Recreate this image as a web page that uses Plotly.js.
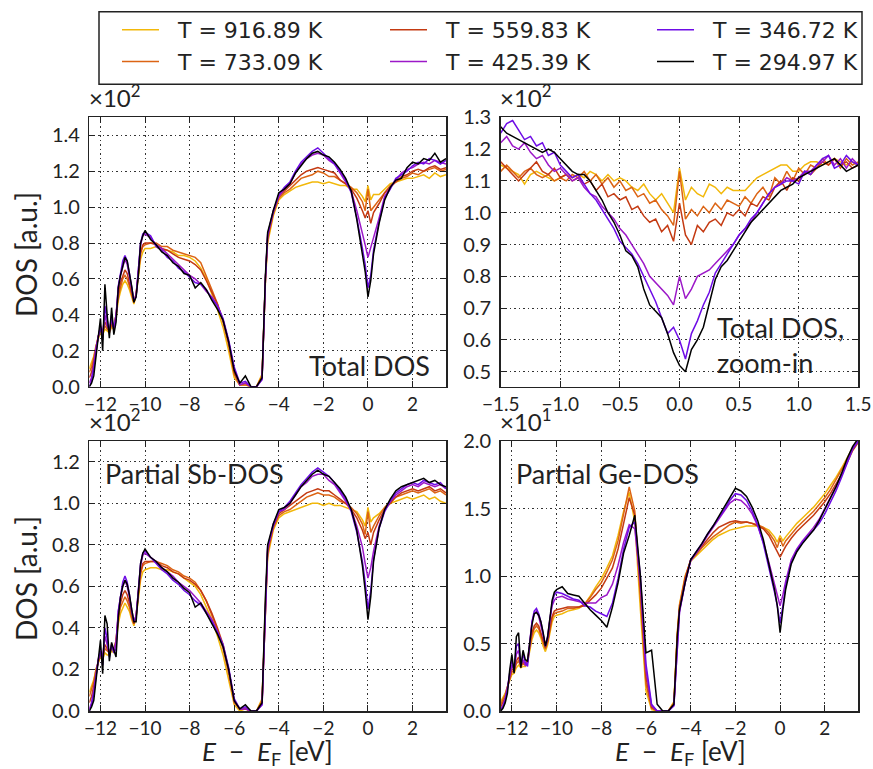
<!DOCTYPE html>
<html><head><meta charset="utf-8">
<script src="https://cdn.plot.ly/plotly-3.0.1.min.js"></script>
<style>html,body{margin:0;padding:0;background:#fff;}#chart{width:873px;height:769px;}</style>
</head><body><div id="chart"></div>
<script>
// ---------------- data ----------------
const seriesLabels = ["T = 916.89 K","T = 733.09 K","T = 559.83 K","T = 425.39 K","T = 346.72 K","T = 294.97 K"];
const seriesColors = ["#f2b80a","#dc6414","#c43a12","#9c18c8","#6e0ce6","#000000"];

const energyWide = [-12.5,-12.4,-12.3,-12.2,-12.1,-12.0,-11.9,-11.8,-11.7,-11.6,-11.5,-11.4,-11.3,-11.2,-11.1,-11.0,-10.9,-10.8,-10.7,-10.6,-10.5,-10.4,-10.3,-10.2,-10.1,-10.0,-9.75,-9.5,-9.25,-9.0,-8.75,-8.5,-8.25,-8.0,-7.75,-7.5,-7.25,-7.0,-6.75,-6.5,-6.25,-6.0,-5.75,-5.5,-5.25,-5.0,-4.75,-4.6,-4.5,-4.25,-4.0,-3.75,-3.5,-3.25,-3.0,-2.75,-2.5,-2.25,-2.0,-1.75,-1.5,-1.25,-1.0,-0.75,-0.5,-0.25,-0.125,0,0.125,0.25,0.5,0.75,1.0,1.25,1.5,1.75,2.0,2.25,2.5,2.75,3.0,3.25,3.5];
const energyZoom = [-1.5,-1.45,-1.4,-1.35,-1.3,-1.25,-1.2,-1.15,-1.1,-1.05,-1.0,-0.95,-0.9,-0.85,-0.8,-0.75,-0.7,-0.65,-0.6,-0.55,-0.5,-0.45,-0.4,-0.35,-0.3,-0.25,-0.2,-0.15,-0.1,-0.05,0,0.05,0.1,0.15,0.2,0.25,0.3,0.35,0.4,0.45,0.5,0.55,0.6,0.65,0.7,0.75,0.8,0.85,0.9,0.95,1.0,1.05,1.1,1.15,1.2,1.25,1.3,1.35,1.4,1.45,1.5];

// Total DOS (x10^2)
const total916 = [0.10,0.13,0.17,0.23,0.27,0.30,0.29,0.32,0.31,0.30, 0.33,0.32,0.38,0.48,0.53,0.57,0.59,0.57,0.54,0.50, 0.46,0.51,0.61,0.71,0.75,0.77,0.77,0.78,0.76,0.76, 0.75,0.73,0.73,0.72,0.70,0.66,0.60,0.52,0.43,0.33, 0.20,0.05,0.01,0.01,0.00,0.00,0.07,0.58,0.80,0.95, 1.04,1.07,1.09,1.11,1.12,1.13,1.14,1.14,1.13,1.14, 1.13,1.12,1.12,1.10,1.10,1.06,1.03,1.12,1.04,1.07, 1.07,1.10,1.13,1.14,1.15,1.16,1.16,1.17,1.18,1.16, 1.19,1.17,1.18];
const total733 = [0.08,0.11,0.16,0.23,0.28,0.31,0.30,0.34,0.32,0.31, 0.34,0.33,0.40,0.50,0.56,0.60,0.62,0.60,0.56,0.51, 0.47,0.52,0.63,0.74,0.78,0.79,0.80,0.80,0.78,0.78, 0.76,0.75,0.74,0.73,0.72,0.69,0.62,0.54,0.46,0.36, 0.23,0.07,0.01,0.01,0.00,0.00,0.06,0.60,0.82,0.96, 1.05,1.08,1.10,1.13,1.16,1.17,1.18,1.20,1.19,1.17, 1.17,1.15,1.13,1.11,1.08,1.03,0.98,1.10,0.98,1.00, 1.04,1.08,1.12,1.14,1.16,1.17,1.19,1.18,1.20,1.21, 1.22,1.20,1.21];
const total559 = [0.05,0.08,0.14,0.22,0.28,0.32,0.30,0.36,0.33,0.31, 0.35,0.33,0.40,0.52,0.58,0.62,0.65,0.63,0.58,0.52, 0.47,0.51,0.64,0.75,0.79,0.80,0.80,0.79,0.77,0.76, 0.74,0.72,0.71,0.70,0.68,0.65,0.59,0.52,0.46,0.37, 0.25,0.08,0.01,0.02,0.00,0.00,0.05,0.60,0.83,0.97, 1.06,1.09,1.12,1.15,1.18,1.20,1.21,1.22,1.21,1.20, 1.19,1.15,1.13,1.10,1.05,0.98,0.94,0.98,0.91,0.97, 1.02,1.08,1.11,1.14,1.17,1.18,1.20,1.21,1.20,1.22, 1.23,1.21,1.22];
const total425 = [0.02,0.05,0.12,0.22,0.27,0.34,0.30,0.40,0.34,0.32, 0.37,0.33,0.40,0.55,0.62,0.67,0.71,0.68,0.62,0.54, 0.48,0.51,0.66,0.79,0.84,0.85,0.83,0.79,0.77,0.74, 0.71,0.68,0.65,0.62,0.60,0.57,0.53,0.50,0.45,0.37, 0.25,0.10,0.01,0.02,0.00,0.00,0.04,0.60,0.84,0.98, 1.06,1.10,1.13,1.19,1.24,1.27,1.29,1.30,1.29,1.26, 1.24,1.19,1.14,1.09,0.98,0.86,0.79,0.72,0.77,0.83, 0.94,1.06,1.11,1.15,1.19,1.21,1.22,1.24,1.25,1.24, 1.26,1.25,1.24];
const total346 = [0.00,0.03,0.10,0.20,0.28,0.33,0.26,0.45,0.36,0.30, 0.40,0.31,0.38,0.56,0.63,0.70,0.73,0.70,0.63,0.55, 0.48,0.50,0.65,0.80,0.85,0.86,0.84,0.78,0.76,0.72, 0.70,0.66,0.64,0.61,0.58,0.57,0.54,0.49,0.45,0.38, 0.26,0.11,0.02,0.03,0.00,0.00,0.04,0.60,0.85,0.97, 1.07,1.11,1.14,1.20,1.25,1.28,1.31,1.33,1.30,1.27, 1.24,1.20,1.15,1.08,0.94,0.77,0.68,0.55,0.62,0.76, 0.92,1.05,1.10,1.16,1.18,1.20,1.23,1.25,1.24,1.27, 1.26,1.24,1.26];
const total294 = [0.00,0.02,0.06,0.18,0.30,0.38,0.20,0.57,0.40,0.27, 0.44,0.29,0.36,0.55,0.62,0.68,0.72,0.70,0.64,0.56, 0.47,0.50,0.62,0.80,0.84,0.87,0.82,0.79,0.75,0.73, 0.69,0.67,0.63,0.62,0.55,0.58,0.54,0.48,0.43,0.37, 0.25,0.09,0.02,0.06,0.00,0.00,0.05,0.62,0.86,0.98, 1.08,1.10,1.13,1.19,1.23,1.27,1.30,1.31,1.29,1.28, 1.25,1.21,1.16,1.09,0.93,0.72,0.64,0.50,0.59,0.74, 0.91,1.04,1.11,1.15,1.16,1.22,1.25,1.24,1.27,1.26, 1.30,1.25,1.27];

// Total DOS zoom-in (x10^2)
const zoom916 = [1.15,1.14,1.13,1.12,1.09,1.12,1.13,1.12,1.11,1.10, 1.11,1.12,1.11,1.12,1.11,1.13,1.12,1.10,1.12,1.10, 1.11,1.10,1.08,1.07,1.09,1.06,1.04,1.06,1.03,1.00, 1.14, 1.04,1.08,1.06,1.05,1.09,1.08,1.06,1.08,1.07,1.07, 1.07,1.09,1.11,1.12,1.13,1.14,1.15,1.15,1.13,1.13, 1.15,1.16,1.16,1.15,1.16,1.17,1.16,1.15,1.16,1.15];
const zoom733 = [1.13,1.15,1.13,1.11,1.13,1.14,1.12,1.11,1.12,1.10, 1.11,1.10,1.12,1.11,1.13,1.10,1.12,1.09,1.11,1.08, 1.10,1.07,1.08,1.05,1.06,1.03,1.04,1.01,0.99,0.96, 1.13, 0.98,1.01,0.99,1.02,1.00,1.03,1.01,1.04,1.03,1.02, 1.05,1.03,1.06,1.08,1.05,1.11,1.09,1.13,1.10,1.14, 1.12,1.15,1.14,1.17,1.15,1.17,1.14,1.17,1.15,1.16];
const zoom559 = [1.16,1.14,1.12,1.10,1.12,1.14,1.16,1.13,1.12,1.14, 1.11,1.12,1.10,1.11,1.09,1.10,1.07,1.09,1.05,1.06, 1.04,1.05,1.01,1.02,0.99,0.97,0.98,0.94,0.96,0.91, 1.03, 0.93,0.90,0.96,0.94,0.97,0.98,0.96,1.00,0.99,1.01, 0.99,1.03,1.02,1.05,1.04,1.08,1.10,1.07,1.11,1.10, 1.13,1.12,1.14,1.16,1.15,1.17,1.15,1.16,1.14,1.15];
const zoom425 = [1.22,1.24,1.21,1.20,1.22,1.19,1.17,1.18,1.15,1.13, 1.14,1.12,1.10,1.11,1.08,1.06,1.05,1.02,1.00,0.98, 0.95,0.93,0.90,0.87,0.84,0.80,0.78,0.76,0.74,0.71, 0.80, 0.73,0.76,0.80,0.81,0.82,0.84,0.86,0.88,0.90,0.93, 0.95,0.97,1.00,1.03,1.06,1.08,1.09,1.11,1.10,1.11, 1.13,1.13,1.15,1.16,1.18,1.15,1.17,1.14,1.17,1.15];
const zoom346 = [1.25,1.28,1.29,1.26,1.23,1.24,1.21,1.22,1.18,1.19, 1.15,1.13,1.11,1.12,1.09,1.06,1.04,1.01,0.98,0.95, 0.91,0.89,0.87,0.84,0.80,0.76,0.72,0.67,0.62,0.64, 0.60, 0.54,0.62,0.66,0.71,0.75,0.81,0.84,0.87,0.90,0.93, 0.95,0.98,1.00,1.03,1.06,1.08,1.09,1.10,1.10,1.09, 1.13,1.12,1.15,1.17,1.18,1.14,1.15,1.18,1.16,1.15];
const zoom294 = [1.27,1.25,1.24,1.23,1.22,1.21,1.20,1.19,1.20,1.19, 1.17,1.15,1.13,1.12,1.12,1.10,1.07,1.04,1.00,0.97, 0.93,0.88,0.865,0.83,0.76,0.71,0.69,0.67,0.62,0.56, 0.52, 0.50,0.57,0.60,0.64,0.72,0.79,0.83,0.85,0.88,0.91, 0.94,0.97,0.99,1.01,1.03,1.05,1.07,1.08,1.09,1.11, 1.12,1.13,1.14,1.15,1.16,1.17,1.15,1.13,1.14,1.15];

// Partial Sb-DOS (x10^2)
const sb916 = [0.09,0.12,0.15,0.20,0.23,0.26,0.25,0.28,0.27,0.27, 0.29,0.28,0.33,0.42,0.47,0.50,0.52,0.50,0.48,0.44, 0.41,0.45,0.54,0.63,0.67,0.68,0.69,0.69,0.68,0.68, 0.67,0.66,0.64,0.62,0.60,0.56,0.50,0.44,0.36,0.27, 0.15,0.03,0.00,0.01,0.00,0.00,0.06,0.50,0.74,0.87, 0.93,0.95,0.96,0.97,0.98,0.99,1.00,1.00,0.99,1.00, 0.99,0.99,0.98,0.97,0.96,0.92,0.89,0.98,0.91,0.93, 0.95,0.98,1.00,1.01,1.02,1.03,1.02,1.03,1.04,1.02, 1.03,1.01,1.00];
const sb733 = [0.07,0.10,0.14,0.20,0.24,0.27,0.26,0.30,0.29,0.28, 0.30,0.29,0.34,0.44,0.50,0.53,0.55,0.53,0.50,0.45, 0.42,0.46,0.56,0.66,0.70,0.71,0.72,0.72,0.71,0.70, 0.68,0.67,0.65,0.64,0.62,0.58,0.53,0.46,0.39,0.30, 0.18,0.04,0.01,0.01,0.00,0.00,0.05,0.52,0.76,0.88, 0.94,0.96,0.97,0.99,1.01,1.03,1.04,1.05,1.04,1.04, 1.03,1.01,1.00,0.98,0.95,0.90,0.85,0.96,0.86,0.89, 0.94,0.98,1.01,1.03,1.04,1.05,1.06,1.05,1.06,1.07, 1.05,1.06,1.04];
const sb559 = [0.04,0.07,0.12,0.19,0.24,0.28,0.26,0.32,0.30,0.28, 0.31,0.29,0.34,0.46,0.52,0.56,0.58,0.56,0.52,0.46, 0.42,0.46,0.57,0.67,0.71,0.72,0.72,0.72,0.70,0.69, 0.67,0.66,0.64,0.63,0.61,0.58,0.53,0.47,0.40,0.32, 0.20,0.05,0.01,0.01,0.00,0.00,0.04,0.52,0.77,0.89, 0.95,0.97,0.99,1.01,1.03,1.05,1.06,1.07,1.06,1.06, 1.04,1.02,1.00,0.97,0.93,0.87,0.83,0.86,0.80,0.86, 0.92,0.97,1.00,1.03,1.05,1.06,1.07,1.06,1.07,1.08, 1.06,1.07,1.05];
const sb425 = [0.01,0.04,0.10,0.18,0.24,0.29,0.26,0.36,0.32,0.28, 0.32,0.29,0.33,0.48,0.55,0.60,0.63,0.60,0.55,0.48, 0.43,0.46,0.59,0.70,0.75,0.76,0.74,0.72,0.69,0.67, 0.65,0.62,0.60,0.58,0.55,0.52,0.48,0.44,0.38,0.31, 0.20,0.05,0.01,0.01,0.00,0.00,0.03,0.50,0.78,0.90, 0.96,0.97,1.00,1.04,1.08,1.10,1.13,1.14,1.14,1.11, 1.09,1.05,1.01,0.97,0.89,0.79,0.71,0.64,0.69,0.77, 0.89,0.97,1.01,1.04,1.06,1.08,1.09,1.08,1.10,1.09, 1.08,1.09,1.07];
const sb346 = [0.00,0.03,0.08,0.17,0.25,0.29,0.22,0.40,0.35,0.26, 0.32,0.28,0.30,0.48,0.56,0.62,0.65,0.62,0.56,0.48, 0.43,0.45,0.58,0.71,0.76,0.77,0.74,0.71,0.68,0.66, 0.63,0.61,0.58,0.56,0.53,0.51,0.47,0.43,0.38,0.32, 0.21,0.06,0.01,0.02,0.00,0.00,0.03,0.52,0.79,0.89, 0.96,0.98,1.01,1.05,1.09,1.12,1.15,1.17,1.15,1.13, 1.10,1.06,1.02,0.96,0.86,0.72,0.62,0.49,0.58,0.73, 0.88,0.96,1.01,1.05,1.07,1.09,1.10,1.09,1.11,1.10, 1.09,1.10,1.07];
const sb294 = [0.00,0.02,0.05,0.15,0.27,0.34,0.18,0.46,0.42,0.24, 0.33,0.30,0.26,0.45,0.55,0.60,0.63,0.61,0.56,0.49, 0.43,0.43,0.55,0.71,0.76,0.78,0.74,0.72,0.69,0.67, 0.64,0.62,0.59,0.57,0.50,0.52,0.47,0.42,0.37,0.31, 0.20,0.05,0.01,0.03,0.00,0.00,0.04,0.55,0.80,0.90, 0.97,0.98,1.00,1.04,1.08,1.11,1.14,1.16,1.14,1.13, 1.10,1.07,1.03,0.97,0.87,0.70,0.58,0.44,0.55,0.72, 0.88,0.97,1.02,1.06,1.08,1.09,1.10,1.11,1.12,1.10, 1.11,1.09,1.08];

// Partial Ge-DOS (x10^1)
const ge916 = [0.07,0.10,0.13,0.18,0.23,0.27,0.28,0.32,0.34,0.32, 0.33,0.33,0.36,0.46,0.53,0.58,0.60,0.58,0.54,0.48, 0.44,0.49,0.58,0.66,0.70,0.71,0.72,0.74,0.75,0.76, 0.79,0.85,0.92,0.98,1.06,1.15,1.30,1.48,1.62,1.40, 0.75,0.15,0.01,0.00,0.00,0.00,0.07,0.58,0.79,1.00, 1.11,1.15,1.19,1.23,1.27,1.30,1.32,1.34,1.35,1.36, 1.37,1.37,1.37,1.36,1.34,1.29,1.25,1.30,1.26,1.29, 1.34,1.39,1.43,1.47,1.51,1.56,1.61,1.67,1.73,1.80, 1.87,1.95,2.00];
const ge733 = [0.05,0.08,0.12,0.18,0.24,0.29,0.29,0.35,0.37,0.33, 0.35,0.34,0.37,0.48,0.56,0.61,0.63,0.61,0.56,0.50, 0.46,0.51,0.61,0.69,0.72,0.73,0.74,0.76,0.76,0.77, 0.79,0.84,0.90,0.95,1.03,1.12,1.26,1.45,1.66,1.48, 0.85,0.20,0.02,0.00,0.00,0.00,0.06,0.57,0.78,0.99, 1.12,1.16,1.21,1.25,1.29,1.32,1.35,1.38,1.40,1.39, 1.40,1.39,1.38,1.36,1.32,1.26,1.21,1.28,1.22,1.26, 1.31,1.36,1.40,1.44,1.48,1.53,1.58,1.64,1.71,1.78, 1.86,1.94,2.00];
const ge559 = [0.03,0.06,0.10,0.17,0.24,0.31,0.30,0.37,0.40,0.34, 0.36,0.35,0.38,0.50,0.58,0.63,0.65,0.63,0.58,0.52, 0.47,0.52,0.62,0.70,0.74,0.75,0.76,0.77,0.77,0.77, 0.78,0.82,0.86,0.91,0.98,1.06,1.20,1.38,1.58,1.45, 0.90,0.25,0.03,0.00,0.00,0.00,0.05,0.55,0.76,0.98, 1.12,1.17,1.22,1.27,1.32,1.36,1.38,1.40,1.41,1.40, 1.40,1.39,1.37,1.35,1.30,1.22,1.18,1.14,1.18,1.22, 1.28,1.33,1.37,1.41,1.45,1.50,1.55,1.61,1.68,1.75, 1.84,1.93,1.99];
const ge425 = [0.01,0.04,0.09,0.17,0.26,0.34,0.30,0.42,0.45,0.34, 0.38,0.34,0.36,0.54,0.66,0.72,0.74,0.70,0.64,0.56, 0.49,0.55,0.68,0.78,0.82,0.84,0.85,0.83,0.82,0.81, 0.80,0.80,0.80,0.84,0.86,0.94,1.08,1.25,1.38,1.35, 0.95,0.30,0.04,0.00,0.00,0.00,0.04,0.50,0.73,0.95, 1.11,1.17,1.23,1.30,1.36,1.42,1.48,1.54,1.57,1.56, 1.52,1.46,1.37,1.25,1.10,0.95,0.87,0.78,0.86,0.96, 1.12,1.20,1.26,1.31,1.36,1.42,1.50,1.57,1.66,1.75, 1.85,1.95,2.00];
const ge346 = [0.00,0.03,0.08,0.16,0.28,0.38,0.30,0.48,0.50,0.33, 0.42,0.36,0.33,0.52,0.66,0.74,0.76,0.72,0.66,0.57, 0.48,0.54,0.69,0.80,0.86,0.88,0.87,0.85,0.83,0.82, 0.78,0.77,0.74,0.72,0.70,0.80,0.98,1.20,1.36,1.40, 1.00,0.35,0.05,0.00,0.00,0.00,0.04,0.52,0.74,0.95, 1.12,1.18,1.24,1.31,1.37,1.43,1.49,1.56,1.61,1.60, 1.56,1.48,1.38,1.24,1.07,0.88,0.78,0.65,0.78,0.93, 1.10,1.19,1.25,1.30,1.34,1.39,1.46,1.54,1.63,1.73, 1.84,1.94,2.00];
const ge294 = [0.00,0.02,0.06,0.13,0.30,0.42,0.28,0.55,0.58,0.32, 0.45,0.38,0.37,0.52,0.64,0.72,0.73,0.71,0.66,0.58, 0.48,0.55,0.70,0.82,0.88,0.90,0.92,0.87,0.86,0.85, 0.80,0.75,0.71,0.67,0.62,0.77,0.95,1.17,1.30,1.45, 1.00,0.43,0.45,0.05,0.00,0.00,0.05,0.55,0.75,0.95, 1.12,1.18,1.24,1.31,1.37,1.44,1.51,1.59,1.65,1.63, 1.59,1.51,1.41,1.27,1.09,0.90,0.78,0.58,0.75,0.90, 1.09,1.18,1.24,1.29,1.34,1.41,1.49,1.57,1.66,1.76, 1.87,1.96,2.02];

const panelTexts = ["Total DOS", "Total DOS,<br>zoom-in", "Partial Sb-DOS", "Partial Ge-DOS"];
const scaleLabels = ["×10<sup>2</sup>", "×10<sup>2</sup>", "×10<sup>2</sup>", "×10<sup>1</sup>"];
const yTitle = "DOS [a.u.]";
const xTitle = "<i>E</i>\u2002−\u2002<i>E</i><sub>F</sub> [eV]";

// ---------------- build ----------------
const panels = [
  {x: energyWide, ys: [total916,total733,total559,total425,total346,total294], xa:'x',  ya:'y'},
  {x: energyZoom, ys: [zoom916,zoom733,zoom559,zoom425,zoom346,zoom294],       xa:'x2', ya:'y2'},
  {x: energyWide, ys: [sb916,sb733,sb559,sb425,sb346,sb294],                   xa:'x3', ya:'y3'},
  {x: energyWide, ys: [ge916,ge733,ge559,ge425,ge346,ge294],                   xa:'x4', ya:'y4'}
];
const legendIds = ['legend','legend','legend2','legend2','legend3','legend3'];
const pad = '\u00a0\u00a0';
const traces = [];
panels.forEach((p, pi) => {
  p.ys.forEach((y, si) => {
    traces.push({
      type:'scatter', mode:'lines', x:p.x, y:y, xaxis:p.xa, yaxis:p.ya,
      name: pad + seriesLabels[si],
      line:{color:seriesColors[si], width:1.5},
      showlegend: pi === 0, legend: legendIds[si], hoverinfo:'skip'
    });
  });
});

const W = 873, H = 769;
const px = v => v / W, py = v => 1 - v / H;
const xdL = [px(89.3), px(446)], xdR = [px(500.7), px(858.3)];
const ydT = [py(386.7), py(117.3)], ydB = [py(711), py(441)];

const axisBase = {
  showline:true, linecolor:'#222', linewidth:1.5, mirror:'ticks',
  ticks:'inside', ticklen:6, tickwidth:1, tickcolor:'#222',
  showgrid:true, gridcolor:'#333', gridwidth:1, griddash:'1.5px,3px',
  zeroline:false, tickfont:{family:'Lato', size:20, color:'#222'}, fixedrange:true
};
const ax = o => Object.assign({}, axisBase, o);
const xTickFont = {family:'Lato', size:19, color:'#222'};

const textFont = {family:'Lato', size:27, color:'#222'};
const yTitleFont = {family:'Lato', size:28, color:'#222'};
const xTitleFont = {family:'Lato', size:26, color:'#222'};
const annotations = [
  {text:scaleLabels[0], x:px(87), y:py(114), xanchor:'left', yanchor:'bottom'},
  {text:scaleLabels[1], x:px(498), y:py(114), xanchor:'left', yanchor:'bottom'},
  {text:scaleLabels[2], x:px(87), y:py(438), xanchor:'left', yanchor:'bottom'},
  {text:scaleLabels[3], x:px(498), y:py(438), xanchor:'left', yanchor:'bottom'}
].map(a => Object.assign(a, {xref:'paper', yref:'paper', showarrow:false, font:{family:'Lato', size:24, color:'#222'}}));
[
  {text:panelTexts[0], x:px(432), y:py(365), xanchor:'right', yanchor:'middle', font:textFont},
  {text:panelTexts[1], x:px(715), y:py(345), xanchor:'left', yanchor:'middle', align:'left', font:textFont},
  {text:panelTexts[2], x:px(103), y:py(473), xanchor:'left', yanchor:'middle', font:textFont},
  {text:panelTexts[3], x:px(514), y:py(473), xanchor:'left', yanchor:'middle', font:textFont},
  {text:yTitle, x:px(26), y:py(255), xanchor:'center', yanchor:'middle', textangle:-90, font:yTitleFont},
  {text:yTitle, x:px(26), y:py(579), xanchor:'center', yanchor:'middle', textangle:-90, font:yTitleFont},
  {text:xTitle, x:px(267), y:py(752), xanchor:'center', yanchor:'middle', font:xTitleFont},
  {text:xTitle, x:px(680), y:py(752), xanchor:'center', yanchor:'middle', font:xTitleFont}
].forEach(a => annotations.push(Object.assign(a, {xref:'paper', yref:'paper', showarrow:false})));

const legendBase = {
  orientation:'v', xanchor:'left', yanchor:'top', y:py(9),
  bgcolor:'rgba(0,0,0,0)', borderwidth:0, itemwidth:37,
  font:{family:'DejaVu Sans', size:22, color:'#222'}
};

const layout = {
  width:W, height:H, margin:{l:0,r:0,t:0,b:0},
  paper_bgcolor:'#fff', plot_bgcolor:'#fff',
  showlegend:true,
  legend:  Object.assign({}, legendBase, {x:px(117)}),
  legend2: Object.assign({}, legendBase, {x:px(385)}),
  legend3: Object.assign({}, legendBase, {x:px(652)}),
  xaxis:  ax({domain:xdL, anchor:'y',  range:[-12.5,3.5], tick0:0, dtick:2, tickfont:xTickFont}),
  yaxis:  ax({domain:ydT, anchor:'x',  range:[0,1.5], tick0:0, dtick:0.2, tickformat:'.1f', ticklabelstandoff:4}),
  xaxis2: ax({domain:xdR, anchor:'y2', range:[-1.5,1.5], tick0:0, dtick:0.5, tickformat:'.1f', tickfont:xTickFont}),
  yaxis2: ax({domain:ydT, anchor:'x2', range:[0.453,1.3], tick0:0, dtick:0.1, tickformat:'.1f', ticklabelstandoff:4}),
  xaxis3: ax({domain:xdL, anchor:'y3', range:[-12.5,3.5], tick0:0, dtick:2, tickfont:xTickFont}),
  yaxis3: ax({domain:ydB, anchor:'x3', range:[0,1.3], tick0:0, dtick:0.2, tickformat:'.1f', ticklabelstandoff:4}),
  xaxis4: ax({domain:xdR, anchor:'y4', range:[-12.5,3.5], tick0:0, dtick:2, tickfont:xTickFont}),
  yaxis4: ax({domain:ydB, anchor:'x4', range:[0,2.0], tick0:0, dtick:0.5, tickformat:'.1f', ticklabelstandoff:4}),
  shapes:[{type:'rect', xref:'paper', yref:'paper', x0:px(99), x1:px(862), y0:py(84.3), y1:py(11.7),
           line:{color:'#222', width:1.5}, fillcolor:'rgba(0,0,0,0)', layer:'above'}],
  annotations: annotations
};

Plotly.newPlot('chart', traces, layout, {displayModeBar:false, staticPlot:true});
</script>
</body></html>
